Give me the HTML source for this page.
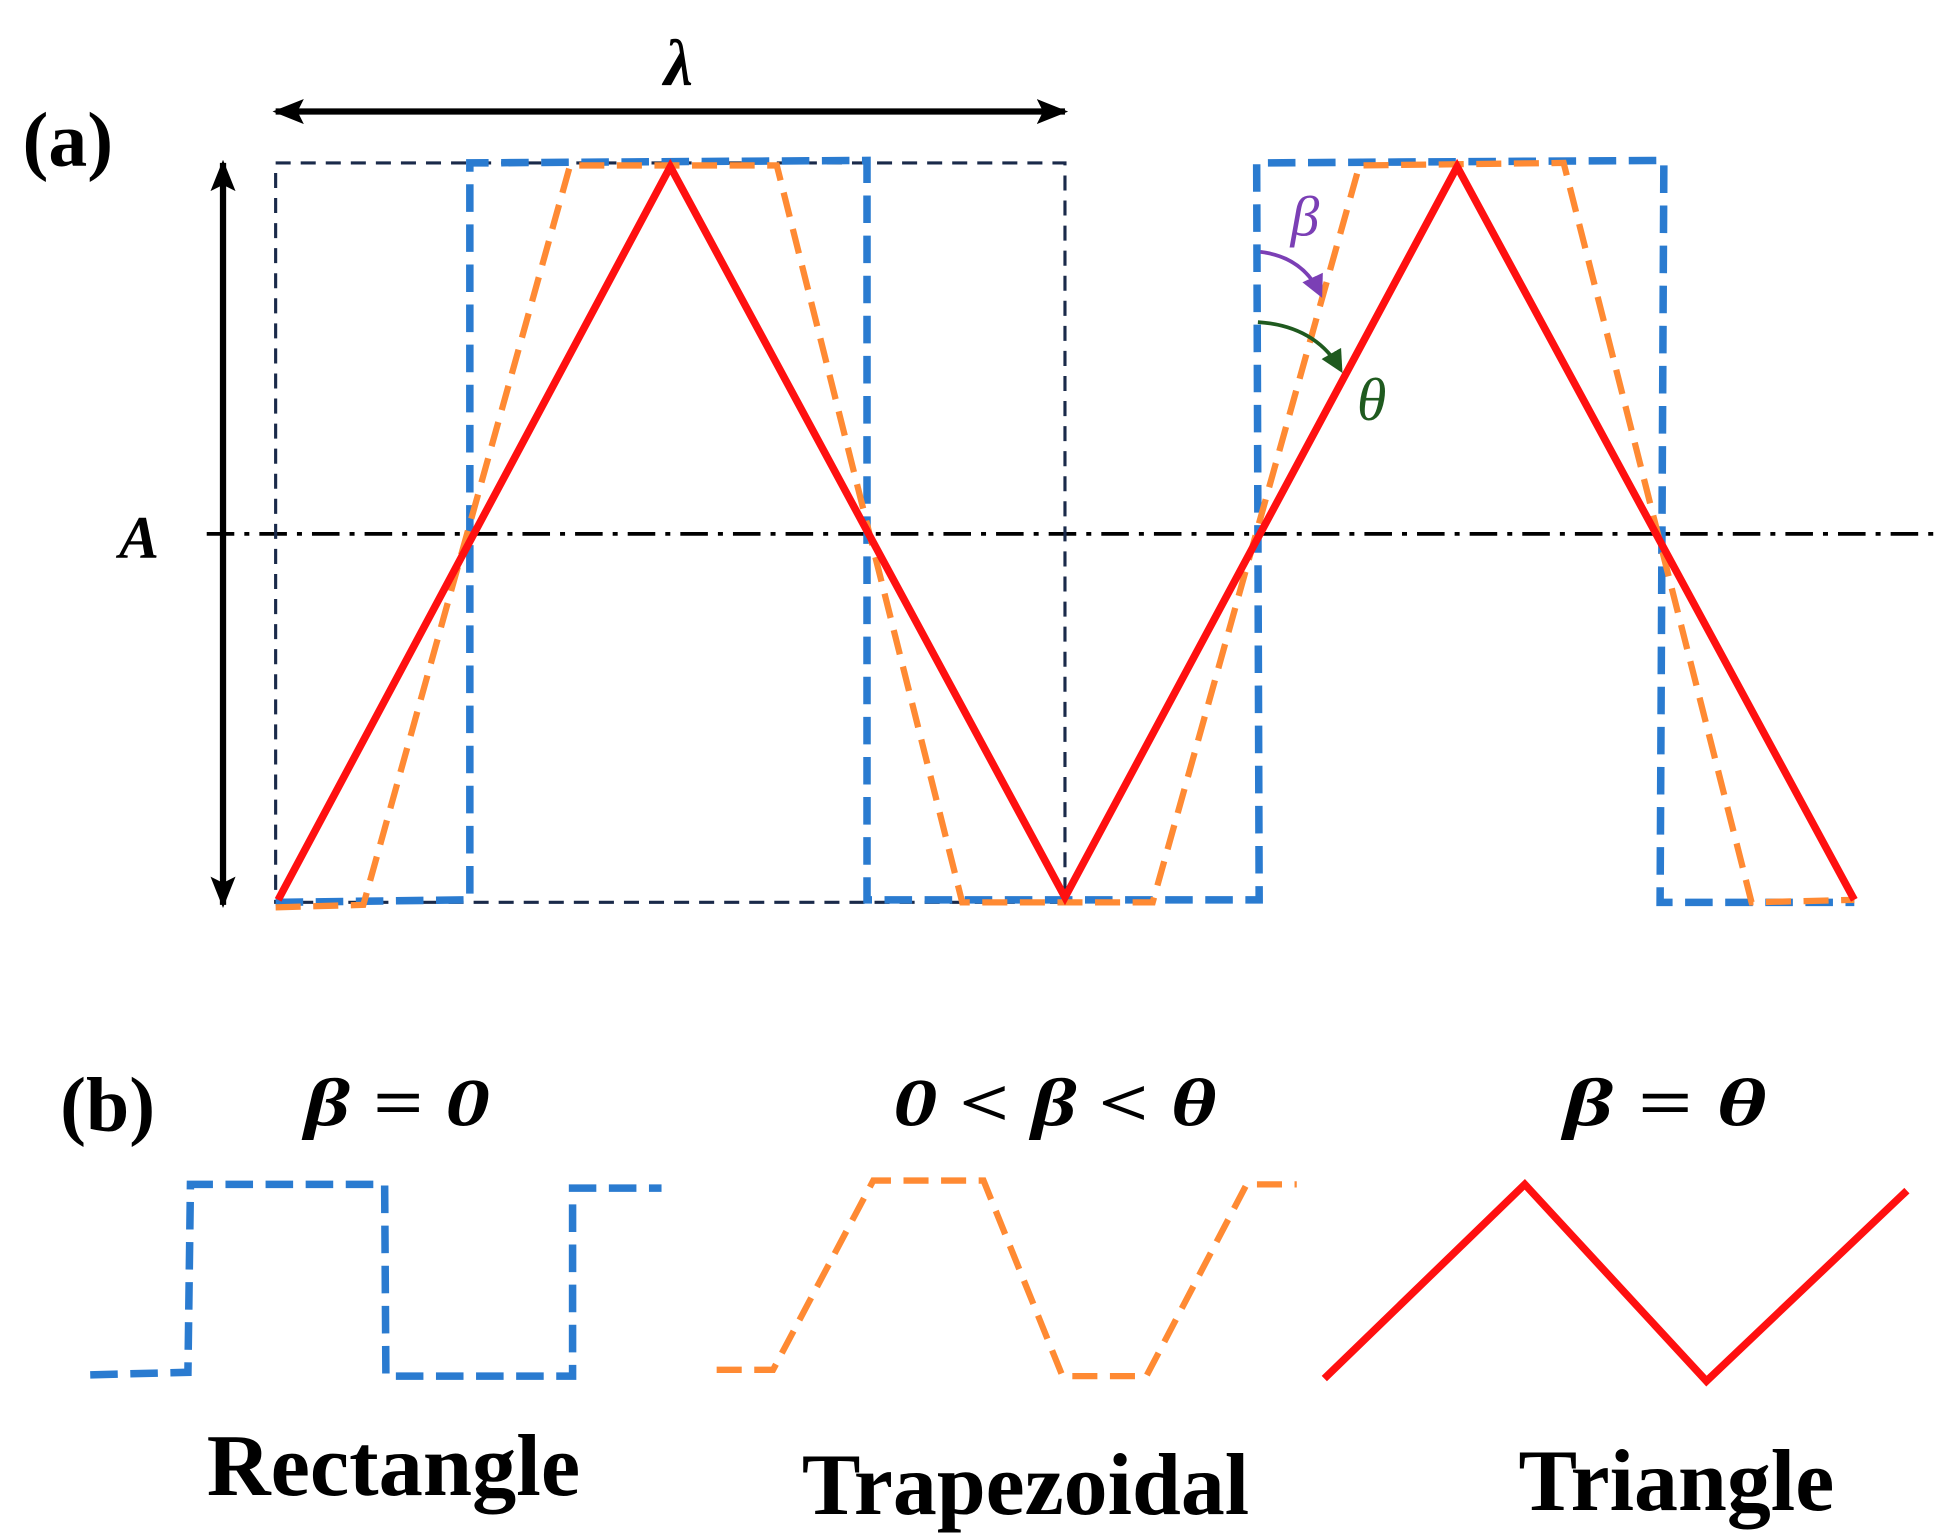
<!DOCTYPE html>
<html><head><meta charset="utf-8"><style>html,body{margin:0;padding:0;background:#fff;}svg{display:block}</style></head>
<body>
<svg width="1942" height="1539" viewBox="0 0 1550 1228" preserveAspectRatio="none" xmlns="http://www.w3.org/2000/svg" font-family="Liberation Serif, serif">
<defs>
<marker id="ah" markerWidth="5" markerHeight="4" refX="4.5" refY="2" orient="auto-start-reverse" markerUnits="strokeWidth"><path d="M0,0 L5,2 L0,4 L1,2 z" fill="#000"/></marker>
<marker id="pu" markerWidth="6" markerHeight="6" refX="5" refY="3" orient="auto" markerUnits="strokeWidth"><path d="M0,0 L6,3 L0,6 z" fill="#7b3fb5"/></marker>
<marker id="gr" markerWidth="6" markerHeight="6" refX="5" refY="3" orient="auto" markerUnits="strokeWidth"><path d="M0,0 L6,3 L0,6 z" fill="#1f5a1f"/></marker>
</defs>
<rect width="1550" height="1228" fill="#fff"/>
<!-- (a) -->
<text x="18" y="132" font-size="62" font-weight="bold">(a)</text>
<text x="530" y="68" font-size="52" font-style="italic" font-weight="bold">λ</text>
<line x1="220" y1="89" x2="850" y2="89" stroke="#000" stroke-width="5" marker-start="url(#ah)" marker-end="url(#ah)"/>
<line x1="178" y1="130" x2="178" y2="722" stroke="#000" stroke-width="5" marker-start="url(#ah)" marker-end="url(#ah)"/>
<text x="95" y="445" font-size="48" font-style="italic" font-weight="bold">A</text>
<line x1="165" y1="426" x2="1545" y2="426" stroke="#000" stroke-width="3" stroke-dasharray="22,8,4,8"/>
<rect x="220" y="130" width="630" height="590" fill="none" stroke="#1a2a4a" stroke-width="2.5" stroke-dasharray="12,8"/>
<polyline points="220,720 375,718 375,130 692,128 692,718 1005,718 1003,130 1328,128 1325,720 1480,720" fill="none" stroke="#2a7bd0" stroke-width="6" stroke-dasharray="22,10"/>
<polyline points="220,724 290,722 455,132 620,132 768,720 920,720 1085,132 1248,130 1398,720 1480,718" fill="none" stroke="#ff8a33" stroke-width="5" stroke-dasharray="20,10"/>
<polyline points="222,718 535,133 850,716 1163,133 1480,718" fill="none" stroke="#ff1010" stroke-width="6"/>
<path d="M1006,201 Q1040,205 1054,235" fill="none" stroke="#7b3fb5" stroke-width="3" marker-end="url(#pu)"/>
<text x="1030" y="188" font-size="46" font-style="italic" fill="#7b3fb5">β</text>
<path d="M1004,257 Q1050,260 1070,295" fill="none" stroke="#1f5a1f" stroke-width="3" marker-end="url(#gr)"/>
<text x="1083" y="335" font-size="48" font-style="italic" fill="#1f5a1f">θ</text>
<!-- (b) -->
<text x="48" y="902" font-size="62" font-weight="bold">(b)</text>
<text x="243" y="898" font-size="54" font-style="italic" font-weight="bold" textLength="148" lengthAdjust="spacingAndGlyphs">β = 0</text>
<text x="713" y="898" font-size="54" font-style="italic" font-weight="bold" textLength="258" lengthAdjust="spacingAndGlyphs">0 &lt; β &lt; θ</text>
<text x="1248" y="898" font-size="54" font-style="italic" font-weight="bold" textLength="162" lengthAdjust="spacingAndGlyphs">β = θ</text>
<polyline points="72,1097 150,1095 152,945 307,945 308,1098 457,1098 457,948 528,948" fill="none" stroke="#2a7bd0" stroke-width="6" stroke-dasharray="22,10"/>
<polyline points="572,1093 617,1093 697,942 785,942 848,1098 915,1098 995,945 1035,945" fill="none" stroke="#ff8a33" stroke-width="5" stroke-dasharray="20,10"/>
<polyline points="1057,1100 1217,945 1362,1102 1522,950" fill="none" stroke="#ff1010" stroke-width="6"/>
<text x="165" y="1193" font-size="70" font-weight="bold" textLength="298" lengthAdjust="spacingAndGlyphs">Rectangle</text>
<text x="640" y="1208" font-size="70" font-weight="bold" textLength="357" lengthAdjust="spacingAndGlyphs">Trapezoidal</text>
<text x="1212" y="1205" font-size="70" font-weight="bold" textLength="252" lengthAdjust="spacingAndGlyphs">Triangle</text>
</svg>
</body></html>
